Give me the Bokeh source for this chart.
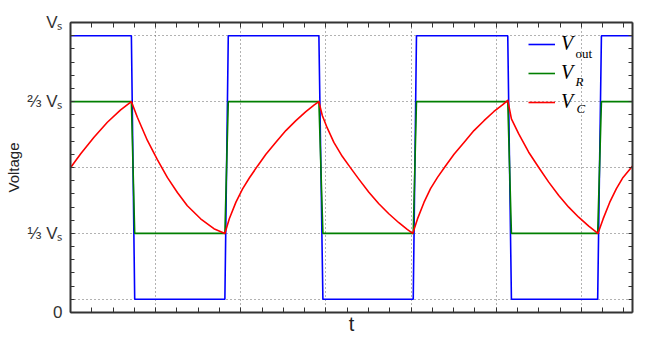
import numpy as np
from bokeh.plotting import figure
from bokeh.models import (LinearAxis, FixedTicker, Legend, LegendItem, Label,
                          Range1d)
from bokeh.embed import file_html
from bokeh.resources import INLINE

# ---------------- data (y in units of Vs/3, x in grid divisions) ----------------
t_out = [0, 0.715, 0.754, 1.813, 1.853, 2.917, 2.964, 4.025, 4.063,
         5.135, 5.178, 6.191, 6.235, 6.6]
v_out = [2.5, 2.5, 0.5, 0.5, 2.5, 2.5, 0.5, 0.5, 2.5, 2.5, 0.5, 0.5, 2.5, 2.5]
v_r = [2, 2, 1, 1, 2, 2, 1, 1, 2, 2, 1, 1, 2, 2]

t_c = [0, 0.120, 0.276, 0.433, 0.589, 0.715,
       0.785, 0.903, 1.020, 1.137, 1.255, 1.372, 1.528, 1.684, 1.813,
       1.865, 1.943, 2.021, 2.100, 2.197, 2.295, 2.412, 2.529, 2.647, 2.764, 2.863, 2.917,
       2.957, 3.015, 3.093, 3.191, 3.289, 3.386, 3.504, 3.621, 3.738, 3.856, 3.954, 4.019,
       4.075, 4.151, 4.228, 4.310, 4.404, 4.504, 4.621, 4.738, 4.856, 4.973, 5.073, 5.135,
       5.178, 5.264, 5.381, 5.499, 5.616, 5.734, 5.851, 5.968, 6.086, 6.194,
       6.255, 6.332, 6.411, 6.489, 6.598]
v_c = [1.498, 1.604, 1.73, 1.843, 1.937, 2.0,
       1.881, 1.705, 1.56, 1.425, 1.31, 1.21, 1.111, 1.036, 1.0,
       1.111, 1.237, 1.338, 1.42, 1.512, 1.60, 1.692, 1.780, 1.856, 1.924, 1.975, 2.0,
       1.894, 1.80, 1.69, 1.585, 1.497, 1.412, 1.313, 1.225, 1.149, 1.081, 1.030, 1.0,
       1.11, 1.235, 1.34, 1.425, 1.512, 1.60, 1.69, 1.78, 1.855, 1.925, 1.975, 2.01,
       1.869, 1.755, 1.616, 1.5, 1.389, 1.288, 1.199, 1.123, 1.055, 1.0,
       1.11, 1.235, 1.34, 1.425, 1.51]

y_tick_pos = [0.4, 1, 2, 2.6]
y_tick_labels = ["0", "\u2153 V\u209b", "\u2154 V\u209b", "V\u209b"]
y_grid_pos = [0.5, 1, 1.5, 2, 2.5]
x_grid_pos = [1, 2, 3, 4, 5, 6]

x_minor = [round(v, 2) for v in np.arange(0, 6.6001, 0.25)]
y_minor = [round(v, 2) for v in np.arange(0.4, 2.6001, 0.1)]

# ---------------- figure ----------------
p = figure(width=647, height=340, output_backend="svg", toolbar_location=None,
           x_range=Range1d(0, 6.6), y_range=Range1d(0.4, 2.6),
           min_border_left=70, min_border_right=15,
           min_border_top=22, min_border_bottom=28,
           x_axis_label="t", y_axis_label="Voltage")
p.outline_line_color = None
p.background_fill_color = "white"
p.border_fill_color = "white"

AX_COL = "#333333"


def style_axis(ax, major_in, minor_in):
    ax.axis_line_color = AX_COL
    ax.axis_line_width = 2
    ax.major_tick_in = major_in
    ax.major_tick_out = 0
    ax.minor_tick_in = minor_in
    ax.minor_tick_out = 0
    ax.major_tick_line_color = AX_COL
    ax.minor_tick_line_color = AX_COL
    ax.major_tick_line_width = 1
    ax.minor_tick_line_width = 1


xa = p.xaxis[0]
xa.ticker = FixedTicker(ticks=[], minor_ticks=x_minor)
style_axis(xa, 5, 5)
xa.major_label_standoff = 0
xa.axis_label_standoff = 0
xa.axis_label_text_font = "Liberation Sans"
xa.axis_label_text_font_size = "20px"
xa.axis_label_text_font_style = "normal"
xa.axis_label_text_color = "#222222"

ya = p.yaxis[0]
ya.ticker = FixedTicker(ticks=y_tick_pos, minor_ticks=y_minor)
style_axis(ya, 4, 4)
ya.major_label_overrides = {k: v for k, v in zip(y_tick_pos, y_tick_labels)}
ya.major_label_text_font = "Liberation Sans"
ya.major_label_text_font_size = "17px"
ya.major_label_text_color = "#333333"
ya.major_label_standoff = 8
ya.axis_label_standoff = 2
ya.axis_label_text_font = "Liberation Sans"
ya.axis_label_text_font_size = "15px"
ya.axis_label_text_font_style = "normal"
ya.axis_label_text_color = "#222222"

top = LinearAxis(ticker=FixedTicker(ticks=[], minor_ticks=x_minor),
                 major_label_standoff=0)
style_axis(top, 5, 5)
p.add_layout(top, "above")

right = LinearAxis(ticker=FixedTicker(ticks=[], minor_ticks=y_minor),
                   major_label_standoff=0)
style_axis(right, 4, 4)
p.add_layout(right, "right")

p.xgrid.ticker = FixedTicker(ticks=x_grid_pos)
p.ygrid.ticker = FixedTicker(ticks=y_grid_pos)
for g in (p.xgrid, p.ygrid):
    g.grid_line_color = "#555555"
    g.grid_line_dash = "1 3"
    g.grid_line_width = 1
    g.grid_line_alpha = 0.9

# ---------------- series ----------------
r_out = p.line(t_out, v_out, line_color="#0000ff", line_width=1.6)
r_r = p.line(t_out, v_r, line_color="#007f00", line_width=1.6)
r_c = p.line(t_c, v_c, line_color="#ff0000", line_width=1.6,
             line_join="round")

legend = Legend(items=[LegendItem(label="V", renderers=[r_out]),
                       LegendItem(label="V", renderers=[r_r]),
                       LegendItem(label="V", renderers=[r_c])],
                location=(458, 199), orientation="vertical",
                label_text_font="Liberation Serif", label_text_font_style="italic",
                label_text_font_size="20px", label_text_color="black",
                label_standoff=6, glyph_width=27, glyph_height=20,
                label_height=20, spacing=6, padding=0, margin=0,
                border_line_alpha=0, background_fill_alpha=0)
p.add_layout(legend)

sub_kw = dict(text_font="Liberation Serif", text_font_size="13px",
              text_baseline="middle", text_align="left", text_color="black")
p.add_layout(Label(x=5.930, y=2.364, text="out", **sub_kw))
p.add_layout(Label(x=5.930, y=2.152, text="R", text_font_style="italic", **sub_kw))
p.add_layout(Label(x=5.941, y=1.947, text="C", text_font_style="italic", **sub_kw))

open("out.html", "w").write(file_html(p, INLINE))
